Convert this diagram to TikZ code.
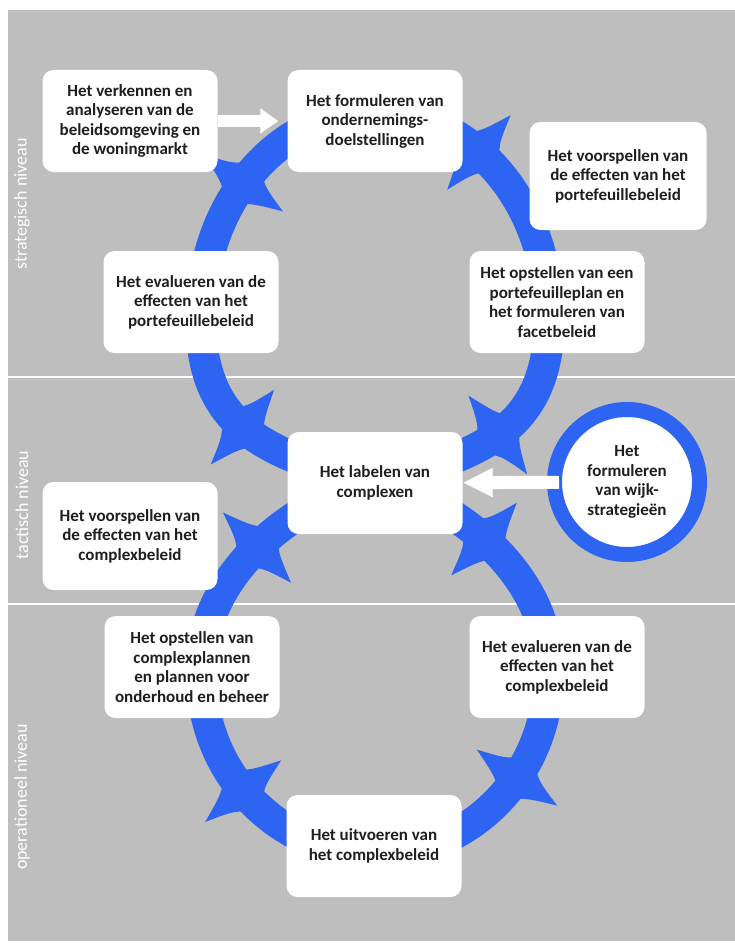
\documentclass[tikz,border=0pt]{standalone}
\usepackage{fontspec}
\setmainfont{Carlito}
\usetikzlibrary{arrows.meta,decorations.markings}
\definecolor{paneel}{RGB}{190,190,190}
\definecolor{ringblauw}{RGB}{45,100,242}
\definecolor{tekst}{RGB}{30,30,30}
\newcommand\barbpunt{\fill[ringblauw] (30,0) .. controls (12,18) .. (2,49) .. controls (-10,18) .. (-26,0)
    .. controls (-10,-18) .. (2,-49) .. controls (12,-18) .. (30,0) -- cycle;}
\tikzset{
  stap/.style={fill=white, rounded corners=11pt, minimum width=175pt, minimum height=102pt,
    inner sep=3pt, align=center, text=tekst, font=\fontsize{17}{19.5}\selectfont\bfseries},
  wijkcirkel/.style={circle, fill=white, draw=ringblauw, line width=15pt, minimum size=145pt,
    inner sep=0pt, align=center, text=tekst, font=\fontsize{17}{19.5}\selectfont\bfseries},
  niveau/.style={rotate=90, text=white, font=\fontsize{18}{20}\selectfont},
  ring/.style={draw=ringblauw, line width=31pt},
  witpijl/.style={draw=white, line width=12pt},
  barbs/.style={postaction={decorate, decoration={markings,
    mark=at position 0.06 with {\barbpunt},
    mark=at position 0.18 with {\barbpunt},
    mark=at position 0.322 with {\barbpunt},
    mark=at position 0.44 with {\barbpunt},
    mark=at position 0.56 with {\barbpunt},
    mark=at position 0.678 with {\barbpunt},
    mark=at position 0.798 with {\barbpunt},
    mark=at position 0.94 with {\barbpunt}}}}
}
\begin{document}
\begin{tikzpicture}[x=1pt, y=-1pt]
    \useasboundingbox (0,0) rectangle (735,947);
    \fill[white] (0,0) rectangle (735,947);
    \fill[paneel] (8,10) rectangle (735,941);
    \draw[white, line width=2.5pt] (8,377) -- (735,377);
    \draw[white, line width=2.5pt] (8,604) -- (735,604);
    \node[niveau] (strategisch) at (22,204) {strategisch niveau};
    \node[niveau] (tactisch) at (22,505) {tactisch niveau};
    \node[niveau] (operationeel) at (22,797) {operationeel niveau};
    \draw[ring, barbs] (375,483) .. controls (320,490) and (201,560) .. (201,670)
        .. controls (201,780) and (285,854) .. (375,854)
        .. controls (465,854) and (549,780) .. (549,670)
        .. controls (549,560) and (430,490) .. (375,483)
        .. controls (270,455) and (201,430) .. (201,320)
        .. controls (201,195) and (285,112) .. (375,112)
        .. controls (465,112) and (549,195) .. (549,320)
        .. controls (549,430) and (480,455) .. (375,483);
    \node[stap] (verkennen) at (130,121) {Het verkennen en\\analyseren van de\\beleidsomgeving en\\de woningmarkt};
    \node[stap] (doelen) at (375,121) {Het formuleren van\\ondernemings-\\doelstellingen};
    \node[stap, minimum width=177pt, minimum height=108pt] (voorspelport) at (618,176) {Het voorspellen van\\de effecten van het\\portefeuillebeleid};
    \node[stap] (portplan) at (557,302) {Het opstellen van een\\portefeuilleplan en\\het formuleren van\\facetbeleid};
    \node[stap] (evalport) at (191,302) {Het evalueren van de\\effecten van het\\portefeuillebeleid};
    \node[stap] (labelen) at (375,483) {Het labelen van\\complexen};
    \node[stap, minimum height=108pt] (voorspelcomplex) at (130,536) {Het voorspellen van\\de effecten van het\\complexbeleid};
    \node[stap] (complexplan) at (192,667) {Het opstellen van\\complexplannen\\en plannen voor\\onderhoud en beheer};
    \node[stap] (evalcomplex) at (557,667) {Het evalueren van de\\effecten van het\\complexbeleid};
    \node[stap] (uitvoeren) at (374,846) {Het uitvoeren van\\het complexbeleid};
    \node[wijkcirkel] (wijk) at (627,482) {Het\\formuleren\\van wijk-\\strategieën};
    \draw[witpijl, -{Triangle[length=18pt,width=24pt]}, shorten >=9pt] (verkennen) -- (doelen);
    \draw[witpijl, line width=13pt, -{Triangle[length=30pt,width=27pt]}, shorten <=-12pt] (wijk) -- (labelen);
\end{tikzpicture}
\end{document}
